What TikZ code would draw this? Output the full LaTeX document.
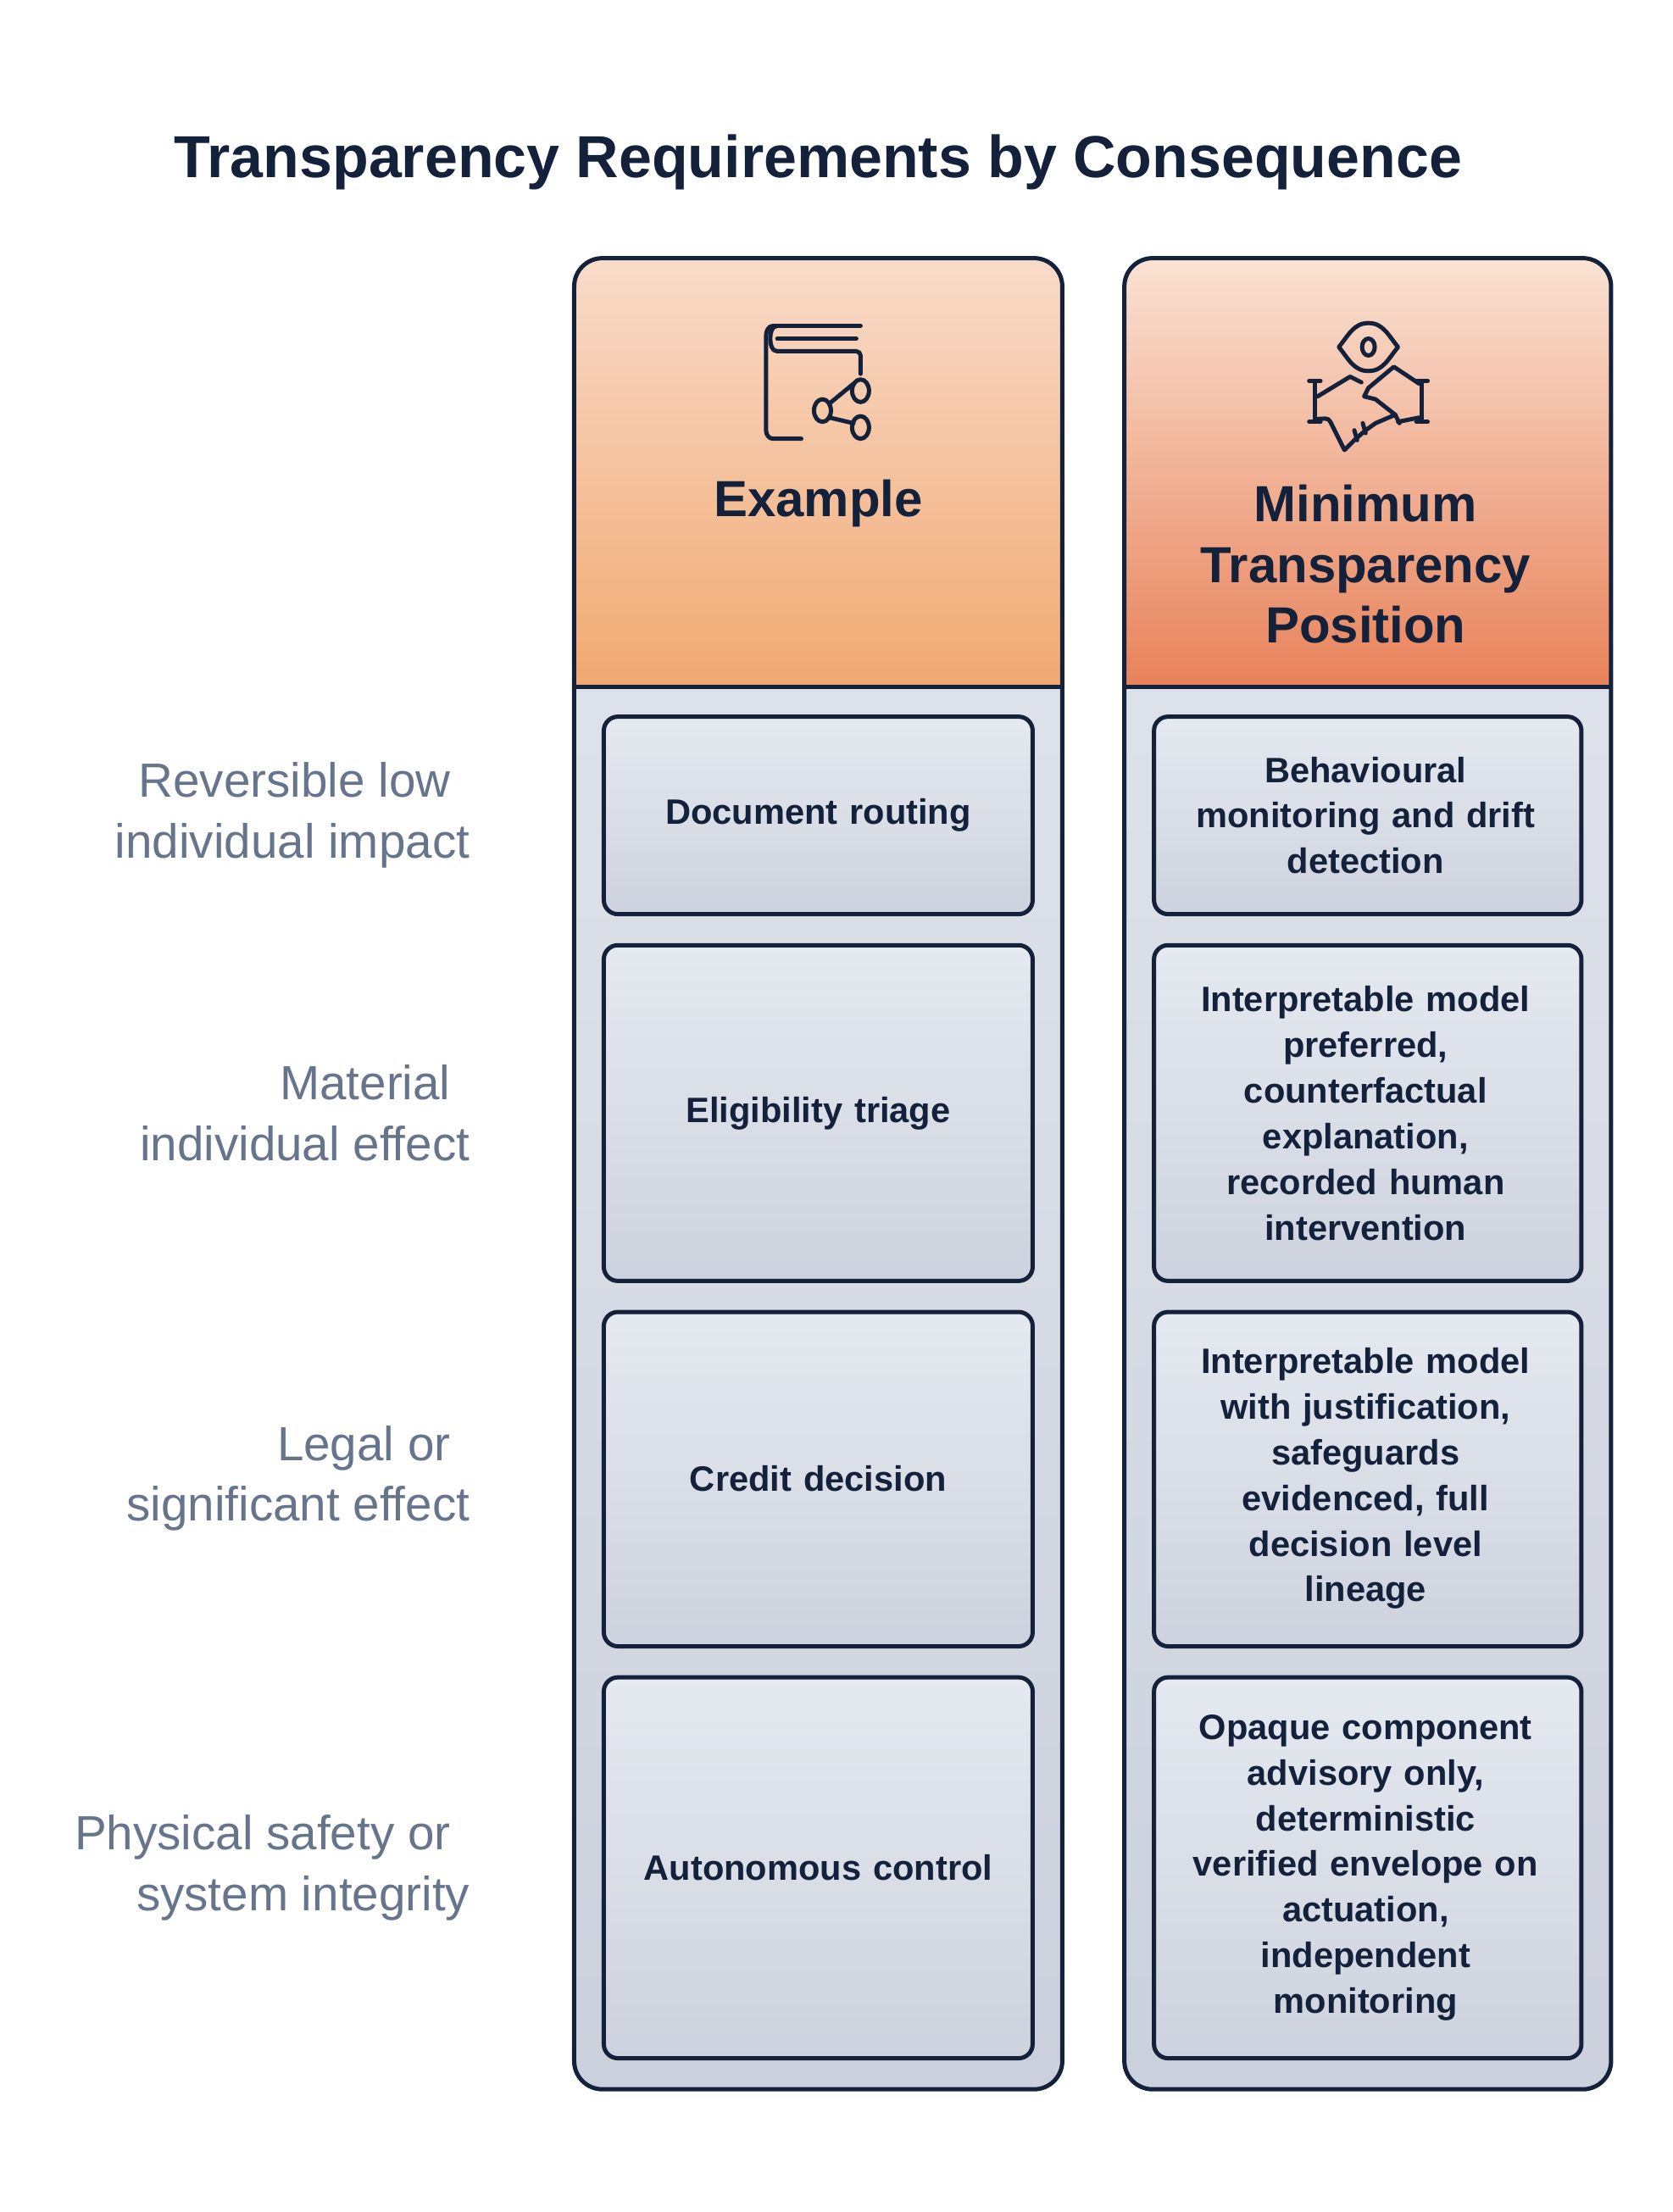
\documentclass[tikz,border=0pt]{standalone}
\usepackage{fontspec}
\setmainfont{Liberation Sans}
\begin{document}
\begin{tikzpicture}[x=0.5pt,y=0.5pt,
  navy/.style={draw=ink,line width=1.5pt},
  inner/.style={draw=ink,line width=1.5pt,rounded corners=5pt,top color=boxtop,bottom color=boxbot},
  txt/.style={font=\fontsize{12.5}{16.2}\selectfont\bfseries,text=ink,align=center,text width=145pt},
  lab/.style={font=\fontsize{17}{21.5}\selectfont,text=slate,align=right,anchor=east},
  ic/.style={draw=ink,line width=1.5pt,line cap=round,line join=round}]
\definecolor{ink}{HTML}{13213B}
\definecolor{slate}{HTML}{67758C}
\definecolor{bodytop}{HTML}{E3E7EE}
\definecolor{bodybot}{HTML}{CBD1DC}
\definecolor{boxtop}{HTML}{E5E9F0}
\definecolor{boxbot}{HTML}{CDD3DE}
\definecolor{h1top}{HTML}{F9DBCA}
\definecolor{h1bot}{HTML}{F0A971}
\definecolor{h2top}{HTML}{FAE2D3}
\definecolor{h2bot}{HTML}{E8825A}
\useasboundingbox[fill=white] (0,0) rectangle (1185.6,-1568);
\node[font=\fontsize{21}{24}\selectfont\bfseries,text=ink] (title) at (580,-115) {Transparency Requirements by Consequence};
% columns
\foreach \xa/\xb/\cta/\ctb in {407/753/h1top/h1bot,797/1142/h2top/h2bot}{
  \fill[rounded corners=10pt,top color=bodytop,bottom color=bodybot] (\xa,-183) rectangle (\xb,-1481);
  \begin{scope}
    \clip[rounded corners=10pt] (\xa,-183) rectangle (\xb,-1481);
    \fill[top color=\cta,bottom color=\ctb] (\xa,-183) rectangle (\xb,-487);
  \end{scope}
  \draw[navy] (\xa,-487) -- (\xb,-487);
  \draw[navy,rounded corners=10pt] (\xa,-183) rectangle (\xb,-1481);
}
\node[font=\fontsize{18}{21.5}\selectfont\bfseries,text=ink] (h1) at (580,-357) {Example};
\node[font=\fontsize{18}{21.5}\selectfont\bfseries,text=ink,align=center] (h2) at (968,-400) {Minimum\\Transparency\\Position};
% rows
\foreach \ya/\yb in {508/648,670/908,930/1167,1189/1459}{
  \draw[inner] (428,-\ya) rectangle (732,-\yb);
  \draw[inner] (818,-\ya) rectangle (1121,-\yb);
}
\node[txt] (a1) at (580,-578) {Document routing};
\node[txt] (a2) at (580,-789) {Eligibility triage};
\node[txt] (a3) at (580,-1048) {Credit decision};
\node[txt] (a4) at (580,-1324) {Autonomous control};
\node[txt] (b1) at (968,-578) {Behavioural\\monitoring and drift\\detection};
\node[txt] (b2) at (968,-789) {Interpretable model\\preferred,\\counterfactual\\explanation,\\recorded human\\intervention};
\node[txt] (b3) at (968,-1048) {Interpretable model\\with justification,\\safeguards\\evidenced, full\\decision level\\lineage};
\node[txt] (b4) at (968,-1324) {Opaque component\\advisory only,\\deterministic\\verified envelope on\\actuation,\\independent\\monitoring};
\node[lab] (l1) at (340,-578) {Reversible low\hspace*{0.4em}\\individual impact};
\node[lab] (l2) at (340,-789) {Material\hspace*{0.4em}\\individual effect};
\node[lab] (l3) at (340,-1048) {Legal or\hspace*{0.4em}\\significant effect};
\node[lab] (l4) at (340,-1324) {Physical safety or\hspace*{0.4em}\\system integrity};
% book icon
\draw[ic] (548,-231) -- (610,-231);
\draw[ic] (551,-240) -- (607,-240);
\draw[ic] (551,-249) -- (607,-249) to[out=0,in=90] (610,-252) -- (610,-265);
\draw[ic] (551,-249) to[out=180,in=-90] (546,-240) to[out=90,in=180] (551,-231);
\draw[ic] (548,-231) to[out=180,in=90] (543,-238) -- (543,-305) to[out=-90,in=180] (548,-311) -- (568,-311);
\draw[ic] (610,-277) ellipse (6 and 8);
\draw[ic] (610,-303) ellipse (6 and 8);
\draw[ic] (583,-291) ellipse (6 and 8);
\draw[ic] (588,-286) -- (605,-272);
\draw[ic] (588,-296) -- (605,-300);
% eye
\draw[ic] (970,-229) to[out=0,in=130] (991,-246) to[out=-130,in=0] (970,-263) to[out=180,in=-50] (949,-246) to[out=50,in=180] (970,-229);
\draw[ic] (970,-246) ellipse (4.5 and 6);
% handshake
\draw[ic] (928,-270) -- (936,-270); \draw[ic] (932,-270) -- (932,-299); \draw[ic] (928,-299) -- (936,-299);
\draw[ic] (1004,-270) -- (1012,-270); \draw[ic] (1008,-270) -- (1008,-299); \draw[ic] (1004,-299) -- (1012,-299);
\draw[ic] (934,-281) -- (957,-267) -- (965,-271);
\draw[ic] (1006,-272) -- (988,-260) -- (970,-275) -- (967,-281) -- (975,-283) -- (989,-294) -- (992,-300);
\draw[ic] (1006,-296) -- (991,-299) ;
\draw[ic] (934,-297) to[out=0,in=110] (943,-299) -- (953,-319) -- (960,-312) -- (968,-305) -- (975,-300) -- (989,-294);
\draw[ic] (960,-305) -- (962,-312); \draw[ic] (966,-300) -- (968,-307);
\end{tikzpicture}
\end{document}
